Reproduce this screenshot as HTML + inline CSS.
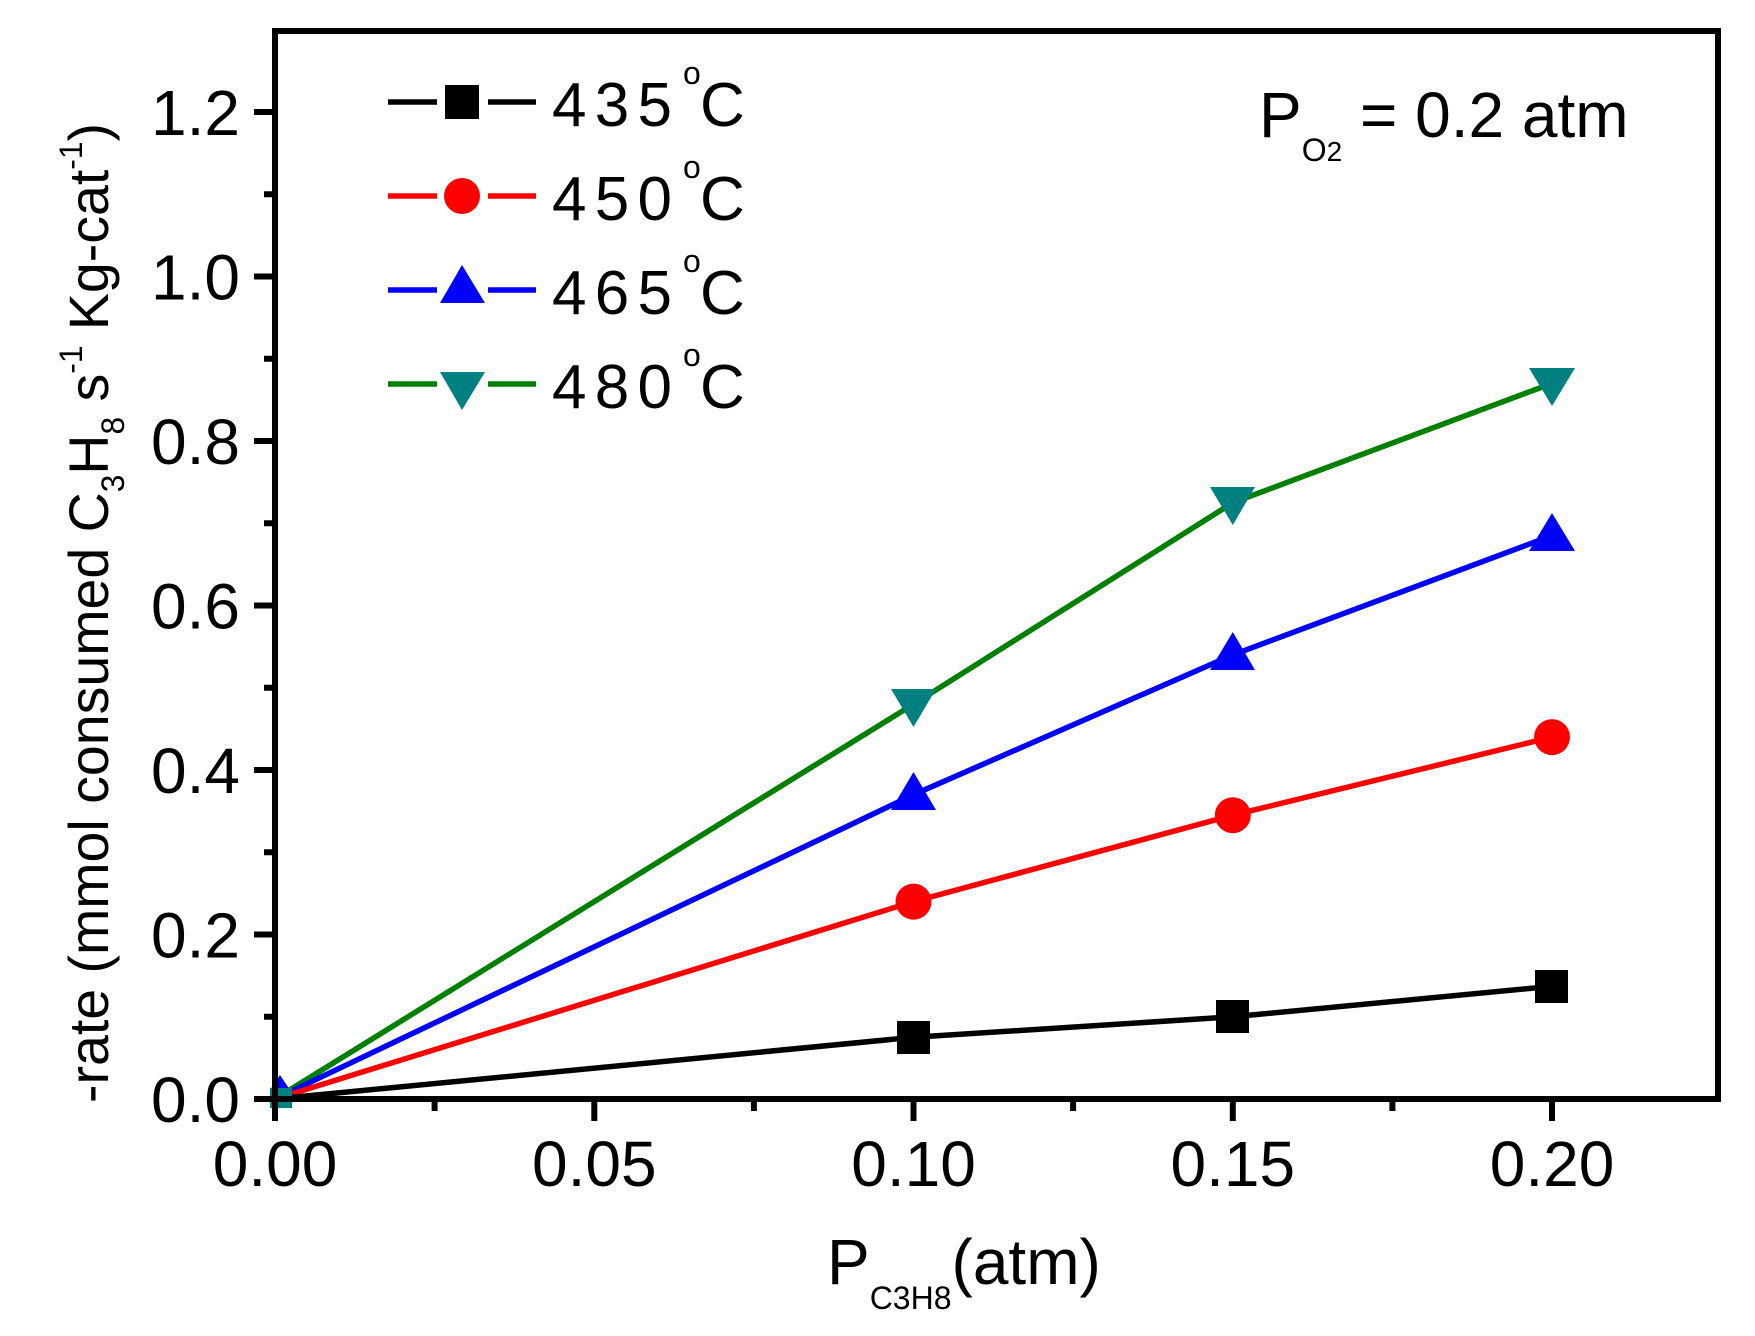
<!DOCTYPE html>
<html><head><meta charset="utf-8"><style>html,body{margin:0;padding:0;background:#fff}svg{display:block}</style></head>
<body>
<svg width="1755" height="1336" viewBox="0 0 1755 1336" xmlns="http://www.w3.org/2000/svg" font-family="Liberation Sans, Arial, sans-serif">
<rect width="1755" height="1336" fill="#fff"/>
<g fill="none" stroke-width="5.5" stroke-linejoin="round">
<polyline stroke="#008000" points="275,1099 913.5,704.2 1232.8,502.7 1552,383.4"/>
<polyline stroke="#0000ff" points="275,1099 913.5,794.7 1232.8,654.9 1552,535.6"/>
<polyline stroke="#ff0000" points="275,1099 913.5,901.6 1232.8,815.2 1552,737.1"/>
<polyline stroke="#000" points="275,1099 913.5,1037.3 1232.8,1016.8 1552,986.3"/>
</g>
<g fill="#000">
<rect x="897" y="1021" width="33" height="33"/><rect x="1216" y="1000" width="33" height="33"/><rect x="1535" y="970" width="33" height="33"/>
</g>
<g fill="#ff0000">
<circle cx="913.5" cy="901.6" r="18"/><circle cx="1232.8" cy="815.2" r="18"/><circle cx="1552" cy="737.1" r="18"/>
</g>
<g fill="#0000ff">
<polygon points="913.5,772 891,810 936,810"/><polygon points="1232.8,632 1210,670 1255,670"/><polygon points="1552,513 1529,551 1575,551"/>
</g>
<g fill="#008080">
<polygon points="913.5,727 891,689 936,689"/><polygon points="1232.8,525 1210,487 1255,487"/><polygon points="1552,406 1529,368 1575,368"/>
</g>
<polygon points="280,1075 270,1090 290,1090" fill="#0000ff"/>
<rect x="270" y="1088" width="22" height="20" fill="#008080"/>
<g stroke="#000" stroke-width="6" fill="none">
<rect x="275" y="31" width="1443" height="1068"/>
<path d="M254,1099H275M254,934.5H275M254,770H275M254,605.5H275M254,441H275M254,276.5H275M254,112H275"/>
<path d="M264,1016.8H275M264,852.3H275M264,687.8H275M264,523.3H275M264,358.8H275M264,194.3H275"/>
<path d="M275,1099V1121M594.3,1099V1121M913.5,1099V1121M1232.8,1099V1121M1552,1099V1121"/>
<path d="M434.6,1099V1111M753.9,1099V1111M1073.1,1099V1111M1392.4,1099V1111"/>
</g>
<g font-size="64" fill="#000" text-anchor="end">
<text x="240" y="1122">0.0</text><text x="240" y="957.5">0.2</text><text x="240" y="793">0.4</text>
<text x="240" y="628.5">0.6</text><text x="240" y="464">0.8</text><text x="240" y="299.5">1.0</text><text x="240" y="135">1.2</text>
</g>
<g font-size="64" fill="#000" text-anchor="middle">
<text x="275" y="1186">0.00</text><text x="594.3" y="1186">0.05</text><text x="913.5" y="1186">0.10</text>
<text x="1232.8" y="1186">0.15</text><text x="1552" y="1186">0.20</text>
</g>
<text x="827" y="1284" font-size="64" fill="#000">P<tspan font-size="32" dy="25">C</tspan><tspan font-size="32">3</tspan><tspan font-size="32">H</tspan><tspan font-size="32">8</tspan><tspan dy="-25" font-size="64">(atm)</tspan></text>
<text transform="translate(108,613) rotate(-90)" text-anchor="middle" font-size="56" fill="#000" textLength="980" lengthAdjust="spacingAndGlyphs">-rate (mmol consumed C<tspan font-size="32" dy="16">3</tspan><tspan dy="-16">H</tspan><tspan font-size="32" dy="16">8</tspan><tspan dy="-16"> s</tspan><tspan font-size="32" dy="-26">-1</tspan><tspan dy="26"> Kg-cat</tspan><tspan font-size="32" dy="-26">-1</tspan><tspan dy="26">)</tspan></text>
<text x="1259" y="137" font-size="64" fill="#000">P<tspan font-size="32" dy="24">O</tspan><tspan font-size="28">2</tspan><tspan dy="-24" font-size="64"> = 0.2 atm</tspan></text>
<g stroke-width="5.5">
<path d="M388,102H437M488,102H536" stroke="#000"/>
<path d="M388,196H437M488,196H536" stroke="#ff0000"/>
<path d="M388,290H437M488,290H536" stroke="#0000ff"/>
<path d="M388,384H437M488,384H536" stroke="#008000"/>
</g>
<rect x="445" y="85" width="34" height="34" fill="#000"/>
<circle cx="462" cy="196" r="18" fill="#ff0000"/>
<polygon points="462,265 440,303 485,303" fill="#0000ff"/>
<polygon points="462,410 440,372 485,372" fill="#008080"/>
<g font-size="62" fill="#000">
<text x="552" y="126" textLength="120" lengthAdjust="spacing">435</text><text x="683" y="84" font-size="32">o</text><text x="700" y="126">C</text>
<text x="552" y="220" textLength="120" lengthAdjust="spacing">450</text><text x="683" y="178" font-size="32">o</text><text x="700" y="220">C</text>
<text x="552" y="314" textLength="120" lengthAdjust="spacing">465</text><text x="683" y="272" font-size="32">o</text><text x="700" y="314">C</text>
<text x="552" y="408" textLength="120" lengthAdjust="spacing">480</text><text x="683" y="366" font-size="32">o</text><text x="700" y="408">C</text>
</g>
</svg>
</body></html>
